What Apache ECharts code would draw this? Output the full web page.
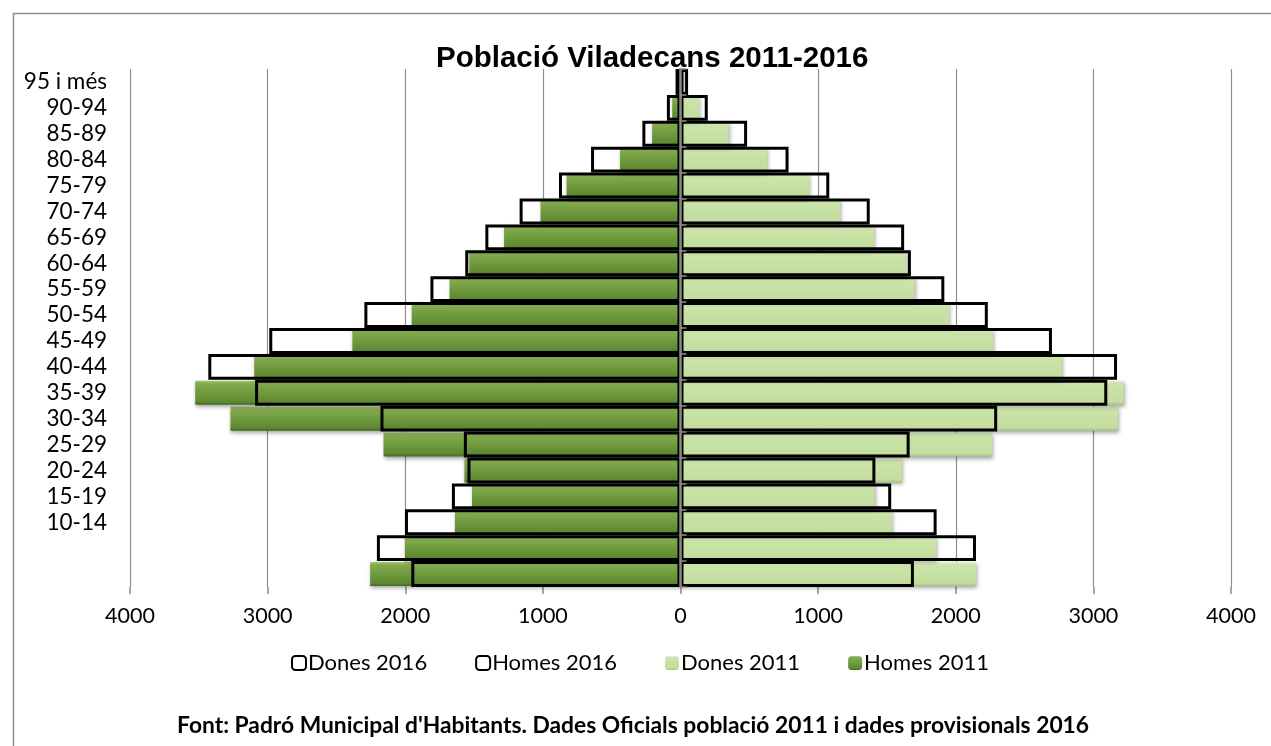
<!DOCTYPE html>
<html>
<head>
<meta charset="utf-8">
<title>Població Viladecans 2011-2016</title>
<script src="https://cdn.jsdelivr.net/npm/echarts@6/dist/echarts.min.js"></script>
<style>
  html, body { margin: 0; padding: 0; background: #fff; }
  #chart { width: 1271px; height: 746px; }
</style>
</head>
<body>
<div id="chart"></div>
<script>
// grups d'edat, de baix a dalt
var ageGroups = ['0-4', '5-9', '10-14', '15-19', '20-24', '25-29', '30-34', '35-39', '40-44', '45-49',
  '50-54', '55-59', '60-64', '65-69', '70-74', '75-79', '80-84', '85-89', '90-94', '95 i més']
// etiquetes que es veuen a l'eix (les dues primeres no surten a l'original)
var ageLabels = ['', '', '10-14', '15-19', '20-24', '25-29', '30-34', '35-39', '40-44', '45-49',
  '50-54', '55-59', '60-64', '65-69', '70-74', '75-79', '80-84', '85-89', '90-94', '95 i més']

var homes2011 = [2255, 2002, 1639, 1515, 1570, 2158, 3270, 3526, 3097, 2384,
  1953, 1678, 1535, 1282, 1017, 828, 439, 206, 60, 12]
var dones2011 = [2147, 1858, 1540, 1410, 1609, 2264, 3178, 3219, 2774, 2271,
  1951, 1702, 1640, 1407, 1158, 935, 630, 350, 138, 25]
var homes2016 = [1956, 2206, 2002, 1661, 1548, 1574, 2180, 3091, 3431, 2988,
  2297, 1817, 1564, 1418, 1169, 883, 650, 277, 99, 36]
var dones2016 = [1696, 2147, 1861, 1531, 1416, 1665, 2301, 3101, 3172, 2699,
  2233, 1917, 1674, 1625, 1375, 1081, 785, 484, 198, 55]

var xTicks = [-4000, -3000, -2000, -1000, 0, 1000, 2000, 3000, 4000]

var FONT = 'Lato, "Open Sans", sans-serif'

function neg (arr) {
  return arr.map(function (v) { return -v })
}

var darkGreen = new echarts.graphic.LinearGradient(0, 0, 0, 1, [
  { offset: 0, color: '#a9c97a' },
  { offset: 0.12, color: '#84aa50' },
  { offset: 0.5, color: '#6f9a3d' },
  { offset: 0.88, color: '#5e8832' },
  { offset: 1, color: '#436520' }
])
var lightGreen = new echarts.graphic.LinearGradient(0, 0, 0, 1, [
  { offset: 0, color: '#e2f0cf' },
  { offset: 0.12, color: '#cbe4aa' },
  { offset: 0.88, color: '#c3dd9f' },
  { offset: 1, color: '#a3c27f' }
])

var barShadow = {
  shadowBlur: 4,
  shadowOffsetX: 1,
  shadowOffsetY: 2,
  shadowColor: 'rgba(0,0,0,0.35)'
}

var myChart = echarts.init(document.getElementById('chart'))

var option = {
  animation: false,
  backgroundColor: '#fff',
  title: [
    {
      text: 'Població Viladecans 2011-2016',
      left: 431,
      top: 39,
      textStyle: {
        fontFamily: '"Liberation Sans", Arial, sans-serif',
        fontWeight: 'bold',
        fontSize: 29.5,
        color: '#000'
      }
    },
    {
      text: "Font: Padró Municipal d'Habitants. Dades Oficials població 2011 i dades provisionals 2016",
      left: 172,
      top: 709,
      textStyle: {
        fontFamily: FONT,
        fontWeight: 'bold',
        fontSize: 22.8,
        color: '#000'
      }
    }
  ],
  graphic: [
    { // marc gris
      type: 'rect',
      shape: { x: 13.5, y: 13.5, width: 1400, height: 900 },
      style: { fill: 'none', stroke: '#8f8f8f', lineWidth: 1.5 },
      silent: true
    }
  ],
  legend: {
    data: ['Dones 2016', 'Homes 2016', 'Dones 2011', 'Homes 2011'],
    left: 286,
    top: 647,
    itemWidth: 14,
    itemHeight: 14,
    itemGap: 48,
    textStyle: { fontFamily: FONT, fontSize: 22, color: '#000', padding: [0, 0, 0, -3] }
  },
  grid: { left: 130, right: 40, top: 69, bottom: 159 },
  xAxis: {
    type: 'value',
    min: -4000,
    max: 4000,
    interval: 1000,
    axisLine: { lineStyle: { color: '#8a8a8a', width: 2 } },
    axisTick: { show: true, length: 7, lineStyle: { color: '#8a8a8a', width: 1.5 } },
    axisLabel: {
      margin: 18,
      fontFamily: FONT,
      fontSize: 21.5,
      color: '#000',
      formatter: function (v) { return xTicks.indexOf(v) >= 0 ? String(Math.abs(v)) : '' }
    },
    splitLine: { show: true, lineStyle: { color: '#8f8f8f', width: 1.2 } }
  },
  yAxis: [
    {
      type: 'category',
      data: ageGroups,
      position: 'left',
      axisLine: { show: false, onZero: false },
      axisTick: { show: false },
      axisLabel: {
        interval: 0,
        margin: 23,
        padding: [15, 0, 0, 0],
        fontFamily: FONT,
        fontSize: 22.5,
        color: '#000',
        formatter: function (v, i) { return ageLabels[i] }
      }
    },
    {
      // eix central sobre les barres
      type: 'category',
      data: ageGroups,
      z: 10,
      axisLine: { show: true, onZero: true, lineStyle: { color: '#8a8a8a', width: 2.5 } },
      axisTick: { show: true, interval: 0, length: 6, lineStyle: { color: '#8a8a8a', width: 1.5 } },
      axisLabel: { show: false }
    }
  ],
  series: [
    {
      name: 'Homes 2011',
      type: 'bar',
      yAxisIndex: 0,
      stack: 'y2011',
      barCategoryGap: '7%',
      data: neg(homes2011),
      itemStyle: Object.assign({ color: darkGreen }, barShadow)
    },
    {
      name: 'Dones 2011',
      type: 'bar',
      yAxisIndex: 0,
      stack: 'y2011',
      data: dones2011,
      itemStyle: Object.assign({ color: lightGreen }, barShadow)
    },
    {
      name: 'Homes 2016',
      type: 'bar',
      yAxisIndex: 1,
      stack: 'y2016',
      barCategoryGap: '0%',
      data: neg(homes2016),
      itemStyle: { color: 'rgba(255,255,255,0)', borderColor: '#000', borderWidth: 3 }
    },
    {
      name: 'Dones 2016',
      type: 'bar',
      yAxisIndex: 1,
      stack: 'y2016',
      data: dones2016,
      itemStyle: { color: 'rgba(255,255,255,0)', borderColor: '#000', borderWidth: 3 }
    }
  ]
}

myChart.setOption(option)
</script>
</body>
</html>
